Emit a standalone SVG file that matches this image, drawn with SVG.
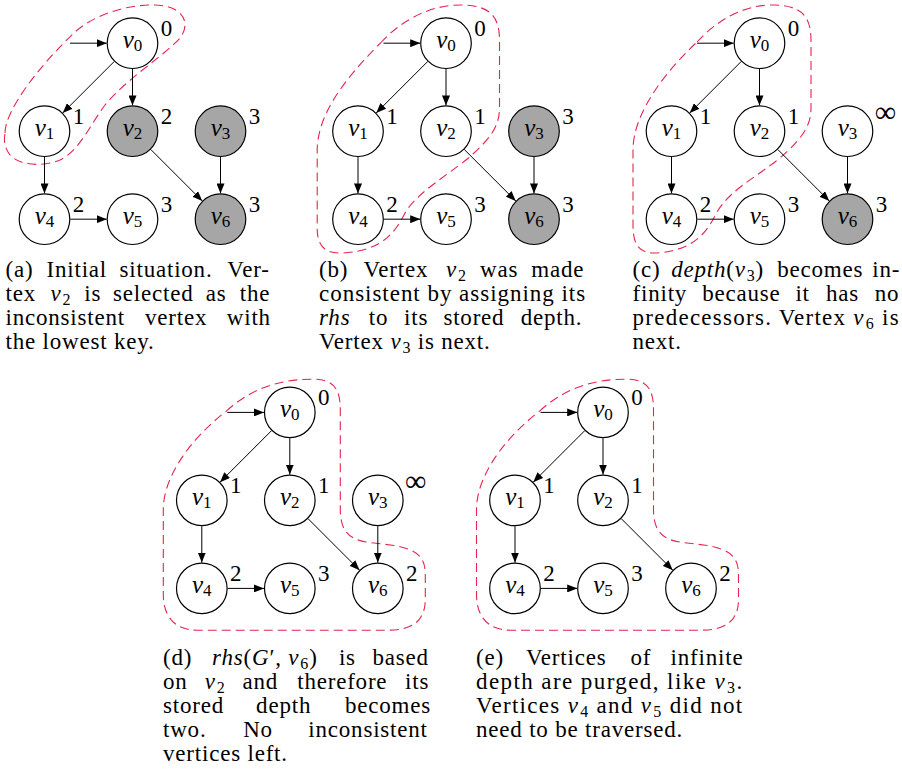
<svg xmlns="http://www.w3.org/2000/svg" width="902" height="784" viewBox="0 0 902 784" font-family="'Liberation Serif', 'DejaVu Serif', serif">
<defs>
<style>
.hull{fill:none;stroke:#e3264d;stroke-width:1.1;stroke-dasharray:9 5}
.edges line{stroke:#000;stroke-width:1;marker-end:url(#arr)}
.node circle{fill:#fff;stroke:#000;stroke-width:1.2}
.node.grey circle{fill:#a6a6a6}
text{font-family:'Liberation Serif','DejaVu Serif',serif;fill:#000}
.nm{font-size:25px;font-style:italic;text-anchor:middle}
.nm .sb{font-size:17px}
.val{font-size:23px;text-anchor:middle}
.inf{font-size:30px;text-anchor:middle}
.sb{font-size:16px;font-style:normal}
.cap{font-size:23px;letter-spacing:0.8px}
.mi{font-style:italic}
</style>
<marker id="arr" markerWidth="10" markerHeight="8" refX="10" refY="4" orient="auto" markerUnits="userSpaceOnUse">
<path d="M0,0 L10,4 L0,8 Z" fill="#000"/>
</marker>
</defs>

<!-- (a) initial situation -->
<g id="panel-a">
<path class="hull" d="M5 133 C5 110 40 65 75 32 C100 10 140 2 165 6 C185 10 190 25 180 38 C165 55 125 80 105 105 C90 125 80 150 60 160 C40 168 15 165 8 152 C4 145 4 140 5 133 Z"/>
<g id="a-edges" class="edges">
<line x1="70" y1="43.2" x2="106.7" y2="43.2"/>
<line x1="114.26" y1="61.44" x2="62.74" y2="112.96"/>
<line x1="132.5" y1="69" x2="132.5" y2="105.4"/>
<line x1="44.5" y1="157" x2="44.5" y2="193.4"/>
<line x1="70.3" y1="219.2" x2="106.7" y2="219.2"/>
<line x1="150.74" y1="149.44" x2="202.26" y2="200.96"/>
<line x1="220.5" y1="157" x2="220.5" y2="193.4"/>
</g>
<g id="a-v0" class="node"><circle cx="132.5" cy="43.2" r="25.3"/><text class="nm" x="132.5" y="48.2">v<tspan class="sb" dy="3">0</tspan></text><text class="val" x="166.5" y="36.2">0</text></g>
<g id="a-v1" class="node"><circle cx="44.5" cy="131.2" r="25.3"/><text class="nm" x="44.5" y="136.2">v<tspan class="sb" dy="3">1</tspan></text><text class="val" x="78.5" y="124.2">1</text></g>
<g id="a-v2" class="node grey"><circle cx="132.5" cy="131.2" r="25.3"/><text class="nm" x="132.5" y="136.2">v<tspan class="sb" dy="3">2</tspan></text><text class="val" x="166.5" y="124.2">2</text></g>
<g id="a-v3" class="node grey"><circle cx="220.5" cy="131.2" r="25.3"/><text class="nm" x="220.5" y="136.2">v<tspan class="sb" dy="3">3</tspan></text><text class="val" x="254.5" y="124.2">3</text></g>
<g id="a-v4" class="node"><circle cx="44.5" cy="219.2" r="25.3"/><text class="nm" x="44.5" y="224.2">v<tspan class="sb" dy="3">4</tspan></text><text class="val" x="78.5" y="212.2">2</text></g>
<g id="a-v5" class="node"><circle cx="132.5" cy="219.2" r="25.3"/><text class="nm" x="132.5" y="224.2">v<tspan class="sb" dy="3">5</tspan></text><text class="val" x="166.5" y="212.2">3</text></g>
<g id="a-v6" class="node grey"><circle cx="220.5" cy="219.2" r="25.3"/><text class="nm" x="220.5" y="224.2">v<tspan class="sb" dy="3">6</tspan></text><text class="val" x="254.5" y="212.2">3</text></g>
</g>

<!-- (b) v2 made consistent -->
<g id="panel-b" transform="translate(313.5,0)">
<path class="hull" d="M67 43 C90 18 120 4 150 5 C175 6 186 15 186 40 L186 108 C186 128 175 140 155 158 C130 178 105 192 92 212 C82 232 70 250 30 253 C10 254 3 245 3.7 225 L3.7 150 C4 115 30 80 67 43 Z"/>
<g id="b-edges" class="edges">
<line x1="70" y1="43.2" x2="106.7" y2="43.2"/>
<line x1="114.26" y1="61.44" x2="62.74" y2="112.96"/>
<line x1="132.5" y1="69" x2="132.5" y2="105.4"/>
<line x1="44.5" y1="157" x2="44.5" y2="193.4"/>
<line x1="70.3" y1="219.2" x2="106.7" y2="219.2"/>
<line x1="150.74" y1="149.44" x2="202.26" y2="200.96"/>
<line x1="220.5" y1="157" x2="220.5" y2="193.4"/>
</g>
<g id="b-v0" class="node"><circle cx="132.5" cy="43.2" r="25.3"/><text class="nm" x="132.5" y="48.2">v<tspan class="sb" dy="3">0</tspan></text><text class="val" x="166.5" y="36.2">0</text></g>
<g id="b-v1" class="node"><circle cx="44.5" cy="131.2" r="25.3"/><text class="nm" x="44.5" y="136.2">v<tspan class="sb" dy="3">1</tspan></text><text class="val" x="78.5" y="124.2">1</text></g>
<g id="b-v2" class="node"><circle cx="132.5" cy="131.2" r="25.3"/><text class="nm" x="132.5" y="136.2">v<tspan class="sb" dy="3">2</tspan></text><text class="val" x="166.5" y="124.2">1</text></g>
<g id="b-v3" class="node grey"><circle cx="220.5" cy="131.2" r="25.3"/><text class="nm" x="220.5" y="136.2">v<tspan class="sb" dy="3">3</tspan></text><text class="val" x="254.5" y="124.2">3</text></g>
<g id="b-v4" class="node"><circle cx="44.5" cy="219.2" r="25.3"/><text class="nm" x="44.5" y="224.2">v<tspan class="sb" dy="3">4</tspan></text><text class="val" x="78.5" y="212.2">2</text></g>
<g id="b-v5" class="node"><circle cx="132.5" cy="219.2" r="25.3"/><text class="nm" x="132.5" y="224.2">v<tspan class="sb" dy="3">5</tspan></text><text class="val" x="166.5" y="212.2">3</text></g>
<g id="b-v6" class="node grey"><circle cx="220.5" cy="219.2" r="25.3"/><text class="nm" x="220.5" y="224.2">v<tspan class="sb" dy="3">6</tspan></text><text class="val" x="254.5" y="212.2">3</text></g>
</g>

<!-- (c) depth(v3) becomes infinity -->
<g id="panel-c" transform="translate(627,0)">
<path class="hull" d="M70 42 C92 18 120 4 148 5 C172 6 184 14 184 40 L184 108 C184 128 173 140 153 158 C128 178 103 190 90 212 C80 232 68 250 30 253 C12 254 6 245 6 225 L6 150 C6 115 35 75 70 42 Z"/>
<g id="c-edges" class="edges">
<line x1="70" y1="43.2" x2="106.7" y2="43.2"/>
<line x1="114.26" y1="61.44" x2="62.74" y2="112.96"/>
<line x1="132.5" y1="69" x2="132.5" y2="105.4"/>
<line x1="44.5" y1="157" x2="44.5" y2="193.4"/>
<line x1="70.3" y1="219.2" x2="106.7" y2="219.2"/>
<line x1="150.74" y1="149.44" x2="202.26" y2="200.96"/>
<line x1="220.5" y1="157" x2="220.5" y2="193.4"/>
</g>
<g id="c-v0" class="node"><circle cx="132.5" cy="43.2" r="25.3"/><text class="nm" x="132.5" y="48.2">v<tspan class="sb" dy="3">0</tspan></text><text class="val" x="166.5" y="36.2">0</text></g>
<g id="c-v1" class="node"><circle cx="44.5" cy="131.2" r="25.3"/><text class="nm" x="44.5" y="136.2">v<tspan class="sb" dy="3">1</tspan></text><text class="val" x="78.5" y="124.2">1</text></g>
<g id="c-v2" class="node"><circle cx="132.5" cy="131.2" r="25.3"/><text class="nm" x="132.5" y="136.2">v<tspan class="sb" dy="3">2</tspan></text><text class="val" x="166.5" y="124.2">1</text></g>
<g id="c-v3" class="node"><circle cx="220.5" cy="131.2" r="25.3"/><text class="nm" x="220.5" y="136.2">v<tspan class="sb" dy="3">3</tspan></text><text class="inf" x="258.5" y="122.2">∞</text></g>
<g id="c-v4" class="node"><circle cx="44.5" cy="219.2" r="25.3"/><text class="nm" x="44.5" y="224.2">v<tspan class="sb" dy="3">4</tspan></text><text class="val" x="78.5" y="212.2">2</text></g>
<g id="c-v5" class="node"><circle cx="132.5" cy="219.2" r="25.3"/><text class="nm" x="132.5" y="224.2">v<tspan class="sb" dy="3">5</tspan></text><text class="val" x="166.5" y="212.2">3</text></g>
<g id="c-v6" class="node grey"><circle cx="220.5" cy="219.2" r="25.3"/><text class="nm" x="220.5" y="224.2">v<tspan class="sb" dy="3">6</tspan></text><text class="val" x="254.5" y="212.2">3</text></g>
</g>

<!-- (d) v6 takes its depth from v2 -->
<g id="panel-d" transform="translate(157.3,369.2)">
<path class="hull" d="M69 42 C95 18 125 10 155 10 C175 10 183 18 183 40 L183 140 C183 160 190 170 210 173 L235 176 C260 180 268 188 268 205 L268 230 C268 252 255 261 230 261 L40 261 C15 261 6 245 6 225 L6 140 C6 110 30 72 69 42 Z"/>
<g id="d-edges" class="edges">
<line x1="70" y1="43.2" x2="106.7" y2="43.2"/>
<line x1="114.26" y1="61.44" x2="62.74" y2="112.96"/>
<line x1="132.5" y1="69" x2="132.5" y2="105.4"/>
<line x1="44.5" y1="157" x2="44.5" y2="193.4"/>
<line x1="70.3" y1="219.2" x2="106.7" y2="219.2"/>
<line x1="150.74" y1="149.44" x2="202.26" y2="200.96"/>
<line x1="220.5" y1="157" x2="220.5" y2="193.4"/>
</g>
<g id="d-v0" class="node"><circle cx="132.5" cy="43.2" r="25.3"/><text class="nm" x="132.5" y="48.2">v<tspan class="sb" dy="3">0</tspan></text><text class="val" x="166.5" y="36.2">0</text></g>
<g id="d-v1" class="node"><circle cx="44.5" cy="131.2" r="25.3"/><text class="nm" x="44.5" y="136.2">v<tspan class="sb" dy="3">1</tspan></text><text class="val" x="78.5" y="124.2">1</text></g>
<g id="d-v2" class="node"><circle cx="132.5" cy="131.2" r="25.3"/><text class="nm" x="132.5" y="136.2">v<tspan class="sb" dy="3">2</tspan></text><text class="val" x="166.5" y="124.2">1</text></g>
<g id="d-v3" class="node"><circle cx="220.5" cy="131.2" r="25.3"/><text class="nm" x="220.5" y="136.2">v<tspan class="sb" dy="3">3</tspan></text><text class="inf" x="258.5" y="122.2">∞</text></g>
<g id="d-v4" class="node"><circle cx="44.5" cy="219.2" r="25.3"/><text class="nm" x="44.5" y="224.2">v<tspan class="sb" dy="3">4</tspan></text><text class="val" x="78.5" y="212.2">2</text></g>
<g id="d-v5" class="node"><circle cx="132.5" cy="219.2" r="25.3"/><text class="nm" x="132.5" y="224.2">v<tspan class="sb" dy="3">5</tspan></text><text class="val" x="166.5" y="212.2">3</text></g>
<g id="d-v6" class="node"><circle cx="220.5" cy="219.2" r="25.3"/><text class="nm" x="220.5" y="224.2">v<tspan class="sb" dy="3">6</tspan></text><text class="val" x="254.5" y="212.2">2</text></g>
</g>

<!-- (e) infinite-depth vertices purged -->
<g id="panel-e" transform="translate(470.5,369.2)">
<path class="hull" d="M69 42 C95 18 125 10 155 10 C175 10 183 18 183 40 L183 140 C183 160 190 170 210 173 L235 176 C260 180 268 188 268 205 L268 230 C268 252 255 261 230 261 L40 261 C15 261 6 245 6 225 L6 140 C6 110 30 72 69 42 Z"/>
<g id="e-edges" class="edges">
<line x1="70" y1="43.2" x2="106.7" y2="43.2"/>
<line x1="114.26" y1="61.44" x2="62.74" y2="112.96"/>
<line x1="132.5" y1="69" x2="132.5" y2="105.4"/>
<line x1="44.5" y1="157" x2="44.5" y2="193.4"/>
<line x1="70.3" y1="219.2" x2="106.7" y2="219.2"/>
<line x1="150.74" y1="149.44" x2="202.26" y2="200.96"/>
</g>
<g id="e-v0" class="node"><circle cx="132.5" cy="43.2" r="25.3"/><text class="nm" x="132.5" y="48.2">v<tspan class="sb" dy="3">0</tspan></text><text class="val" x="166.5" y="36.2">0</text></g>
<g id="e-v1" class="node"><circle cx="44.5" cy="131.2" r="25.3"/><text class="nm" x="44.5" y="136.2">v<tspan class="sb" dy="3">1</tspan></text><text class="val" x="78.5" y="124.2">1</text></g>
<g id="e-v2" class="node"><circle cx="132.5" cy="131.2" r="25.3"/><text class="nm" x="132.5" y="136.2">v<tspan class="sb" dy="3">2</tspan></text><text class="val" x="166.5" y="124.2">1</text></g>
<g id="e-v4" class="node"><circle cx="44.5" cy="219.2" r="25.3"/><text class="nm" x="44.5" y="224.2">v<tspan class="sb" dy="3">4</tspan></text><text class="val" x="78.5" y="212.2">2</text></g>
<g id="e-v5" class="node"><circle cx="132.5" cy="219.2" r="25.3"/><text class="nm" x="132.5" y="224.2">v<tspan class="sb" dy="3">5</tspan></text><text class="val" x="166.5" y="212.2">3</text></g>
<g id="e-v6" class="node"><circle cx="220.5" cy="219.2" r="25.3"/><text class="nm" x="220.5" y="224.2">v<tspan class="sb" dy="3">6</tspan></text><text class="val" x="254.5" y="212.2">2</text></g>
</g>

<!-- captions, justified word by word -->
<g id="captions">
<text class="cap" y="277"><tspan x="5.5">(a)</tspan><tspan x="46.5">Initial</tspan><tspan x="119.5">situation.</tspan><tspan x="227.3">Ver-</tspan></text>
<text class="cap" y="301"><tspan x="5.5">tex</tspan><tspan x="50.5" class="mi">v</tspan><tspan class="sb" dx="1" dy="3.5">2</tspan><tspan x="84.3" y="301">is</tspan><tspan x="113.1">selected</tspan><tspan x="205.8">as</tspan><tspan x="239.8">the</tspan></text>
<text class="cap" y="325"><tspan x="5.5">inconsistent</tspan><tspan x="145">vertex</tspan><tspan x="226.8">with</tspan></text>
<text class="cap" x="5.5" y="349">the lowest key.</text>

<text class="cap" y="277"><tspan x="319">(b)</tspan><tspan x="363.5">Vertex</tspan><tspan x="446" class="mi">v</tspan><tspan class="sb" dx="1" dy="3.5">2</tspan><tspan x="480" y="277">was</tspan><tspan x="531.2">made</tspan></text>
<text class="cap" x="319" y="301" textLength="267" lengthAdjust="spacing">consistent by assigning its</text>
<text class="cap" y="325"><tspan x="319" class="mi">rhs</tspan><tspan x="368.7">to</tspan><tspan x="404">its</tspan><tspan x="443.4">stored</tspan><tspan x="520.7">depth.</tspan></text>
<text class="cap" x="319" y="349">Vertex <tspan class="mi">v</tspan><tspan class="sb" dx="1" dy="3.5">3</tspan><tspan dy="-3.5"> is next.</tspan></text>

<text class="cap" y="277"><tspan x="632.5">(c)</tspan><tspan x="671.2" class="mi">depth</tspan><tspan>(</tspan><tspan class="mi">v</tspan><tspan class="sb" dx="1" dy="3.5">3</tspan><tspan dy="-3.5">)</tspan><tspan x="777.2">becomes</tspan><tspan x="872.2">in-</tspan></text>
<text class="cap" y="301"><tspan x="632.5">finity</tspan><tspan x="702.2">because</tspan><tspan x="795.4">it</tspan><tspan x="825.9">has</tspan><tspan x="874.8">no</tspan></text>
<text class="cap" x="632.5" y="325" textLength="267" lengthAdjust="spacing">predecessors. Vertex <tspan class="mi">v</tspan><tspan class="sb" dx="1" dy="3.5">6</tspan><tspan dy="-3.5"> is</tspan></text>
<text class="cap" x="632.5" y="349">next.</text>

<text class="cap" y="665"><tspan x="163">(d)</tspan><tspan x="212.1" class="mi">rhs</tspan><tspan>(</tspan><tspan class="mi">G</tspan><tspan>′, </tspan><tspan class="mi">v</tspan><tspan class="sb" dx="1" dy="3.5">6</tspan><tspan dy="-3.5">)</tspan><tspan x="338.9">is</tspan><tspan x="372.5">based</tspan></text>
<text class="cap" y="689"><tspan x="163">on</tspan><tspan x="204.7" class="mi">v</tspan><tspan class="sb" dx="1" dy="3.5">2</tspan><tspan x="242.4" y="689">and</tspan><tspan x="297.2">therefore</tspan><tspan x="405">its</tspan></text>
<text class="cap" y="713"><tspan x="163">stored</tspan><tspan x="256.1">depth</tspan><tspan x="345">becomes</tspan></text>
<text class="cap" y="737"><tspan x="163">two.</tspan><tspan x="243.2">No</tspan><tspan x="308.3">inconsistent</tspan></text>
<text class="cap" x="163" y="761">vertices left.</text>

<text class="cap" y="665"><tspan x="476">(e)</tspan><tspan x="526">Vertices</tspan><tspan x="630.4">of</tspan><tspan x="670.6">infinite</tspan></text>
<text class="cap" x="476" y="689" textLength="267" lengthAdjust="spacing">depth are purged, like <tspan class="mi">v</tspan><tspan class="sb" dx="1" dy="3.5">3</tspan><tspan dy="-3.5">.</tspan></text>
<text class="cap" x="476" y="713" textLength="267" lengthAdjust="spacing">Vertices <tspan class="mi">v</tspan><tspan class="sb" dx="1" dy="3.5">4</tspan><tspan dy="-3.5"> and </tspan><tspan class="mi">v</tspan><tspan class="sb" dx="1" dy="3.5">5</tspan><tspan dy="-3.5"> did not</tspan></text>
<text class="cap" x="476" y="737">need to be traversed.</text>
</g>
</svg>
